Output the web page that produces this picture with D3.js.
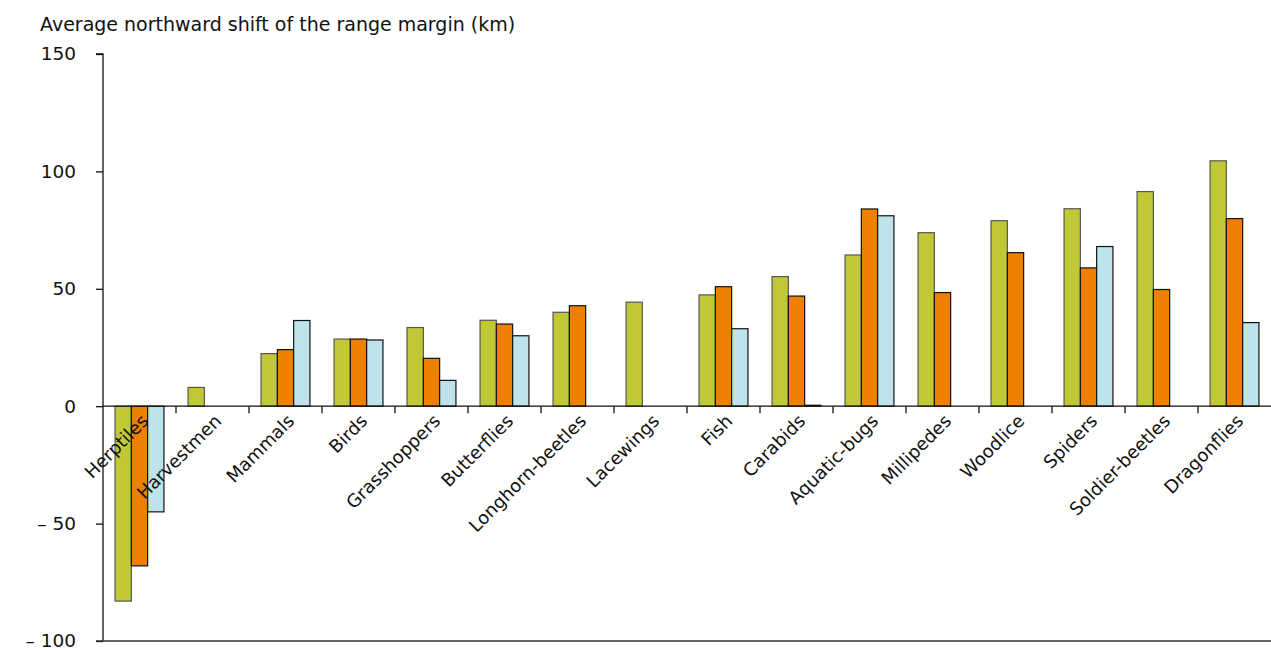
<!DOCTYPE html>
<html>
<head>
<meta charset="utf-8">
<script src="https://cdn.jsdelivr.net/npm/d3@7"></script>
<style>
  html, body { margin: 0; padding: 0; background: #fff; }
  svg { display: block; font-family: "DejaVu Sans", Verdana, sans-serif; }
</style>
</head>
<body>
<svg id="chart" width="1271" height="650"></svg>
<script>
// Species groups, ordered by their shift
const categories = ["Herptiles", "Harvestmen", "Mammals", "Birds", "Grasshoppers", "Butterflies",
  "Longhorn-beetles", "Lacewings", "Fish", "Carabids", "Aquatic-bugs", "Millipedes",
  "Woodlice", "Spiders", "Soldier-beetles", "Dragonflies"];

// Average northward shift (km) for three series; null = no bar
const seriesGreen  = [-83, 8, 22.4, 28.6, 33.5, 36.6, 40, 44.3, 47.4, 55.2, 64.4, 73.9, 79, 84.1, 91.4, 104.5];
const seriesOrange = [-68, null, 24.1, 28.6, 20.4, 35, 42.8, null, 50.9, 46.9, 84, 48.4, 65.4, 58.9, 49.7, 79.9];
const seriesBlue   = [-45, null, 36.5, 28.2, 11, 30, null, null, 33, 0.4, 81.1, null, null, 68, null, 35.6];

const seriesNames = ["green", "orange", "blue"];
const seriesColors = ["#c0c935", "#ee7f00", "#bfe3ea"];
const seriesStrokes = ["#555", "#111", "#111"];

const yTicks = [-100, -50, 0, 50, 100, 150];
const yTitle = "Average northward shift of the range margin (km)";

const svg = d3.select("#chart");
const plotLeft = 103, plotRight = 1271, plotTop = 54, plotBottom = 641;

const x = d3.scaleBand().domain(categories).range([plotLeft, plotRight]).paddingInner(0).paddingOuter(0);
const xSub = d3.scaleBand().domain(seriesNames).range([0, x.bandwidth()]).paddingInner(0).paddingOuter(0.74);
const y = d3.scaleLinear().domain([-100, 150]).range([plotBottom, plotTop]);

const rows = categories.map((c, i) => ({
  cat: c,
  vals: [seriesGreen[i], seriesOrange[i], seriesBlue[i]]
}));

// Bars
const groups = svg.append("g").selectAll("g").data(rows).join("g")
  .attr("transform", d => `translate(${x(d.cat)},0)`);

groups.selectAll("rect")
  .data(d => d.vals.map((v, k) => ({ v, k })).filter(e => e.v !== null))
  .join("rect")
  .attr("x", e => xSub(seriesNames[e.k]))
  .attr("width", xSub.bandwidth())
  .attr("y", e => y(Math.max(0, e.v)))
  .attr("height", e => Math.abs(y(e.v) - y(0)))
  .attr("fill", e => seriesColors[e.k])
  .attr("stroke", e => seriesStrokes[e.k])
  .attr("stroke-width", 1.2);

// Y axis
const yAxis = d3.axisLeft(y).tickValues(yTicks).tickSize(7).tickPadding(20)
  .tickFormat(v => v < 0 ? "\u2013 " + Math.abs(v) : String(v));
const gy = svg.append("g").attr("transform", `translate(${plotLeft},0)`).call(yAxis);
gy.select(".domain").attr("d", `M-7,${plotTop}H0V${plotBottom}`).attr("stroke", "#111").attr("stroke-width", 1.3);
gy.selectAll(".tick line").attr("stroke", "#111").attr("stroke-width", 1.3);
gy.selectAll(".tick text").attr("font-size", 18.5).attr("fill", "#111")
  .attr("font-family", "DejaVu Sans, Verdana, sans-serif");

// Bottom border line
svg.append("line")
  .attr("x1", plotLeft - 7).attr("x2", plotRight)
  .attr("y1", y(-100)).attr("y2", y(-100))
  .attr("stroke", "#333").attr("stroke-width", 1.5);

// Zero line with category separators
const gx = svg.append("g");
gx.append("line")
  .attr("x1", plotLeft).attr("x2", plotRight)
  .attr("y1", y(0)).attr("y2", y(0))
  .attr("stroke", "#111").attr("stroke-width", 1.3);
gx.selectAll("line.sep").data(categories.slice(1)).join("line")
  .attr("class", "sep")
  .attr("x1", d => x(d)).attr("x2", d => x(d))
  .attr("y1", y(0)).attr("y2", y(0) + 7)
  .attr("stroke", "#111").attr("stroke-width", 1.3);

// Rotated category labels
svg.append("g").selectAll("text").data(categories).join("text")
  .attr("transform", d => `translate(${x(d) + x.bandwidth() / 2 + 10},${y(0) + 16}) rotate(-45)`)
  .attr("text-anchor", "end")
  .attr("font-size", 18)
  .attr("fill", "#111")
  .text(d => d);

// Axis title
svg.append("text")
  .attr("x", 40).attr("y", 31)
  .attr("font-size", 19)
  .attr("fill", "#111")
  .text(yTitle);
</script>
</body>
</html>
